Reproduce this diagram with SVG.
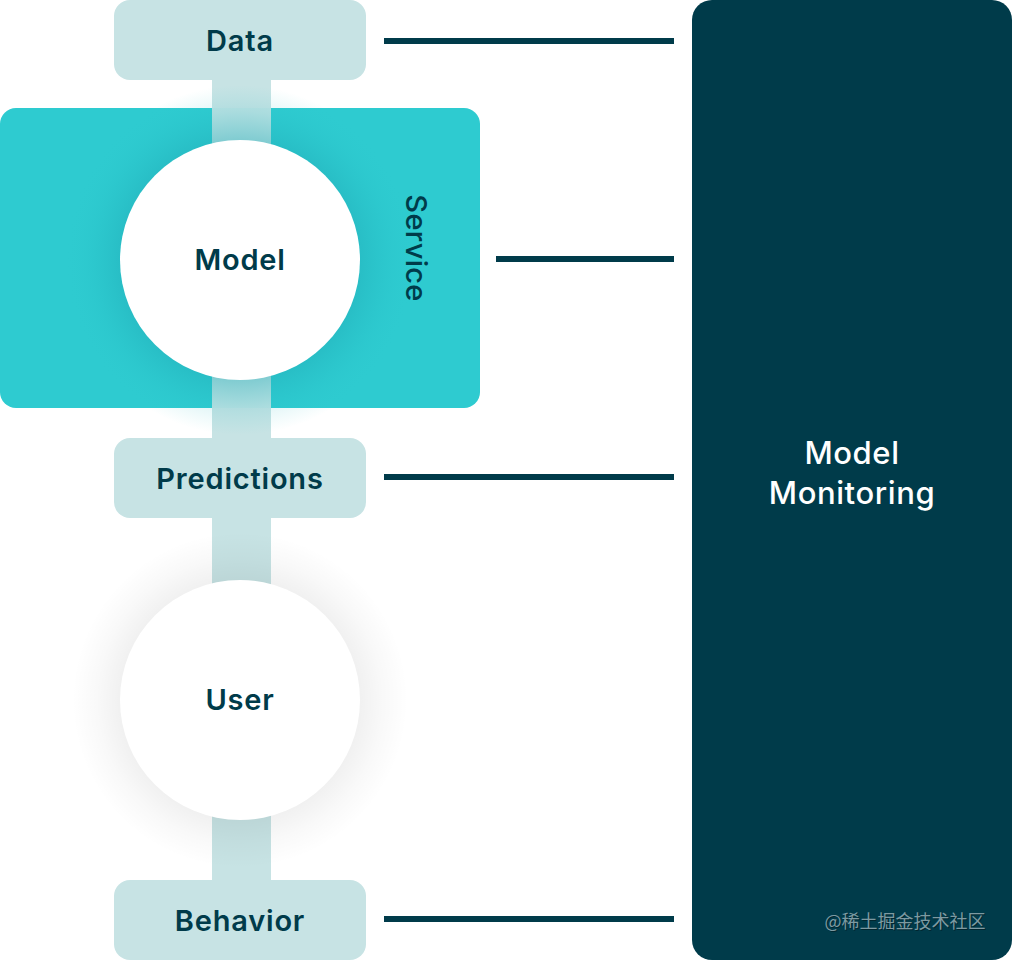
<svg xmlns="http://www.w3.org/2000/svg" width="1012" height="960" viewBox="0 0 1012 960">
<defs>
<style>
.pill{fill:#c7e3e4}
.bar{fill:#c7e3e4}
.lbl{font-family:Inter,Lato,"Noto Sans",sans-serif;font-weight:600;font-size:29px;letter-spacing:0.8px;fill:#003b4a;text-anchor:middle}
.conn{stroke:#003b4a;stroke-width:6;fill:none}
.wlbl{font-family:Inter,Lato,"Noto Sans",sans-serif;font-weight:500;font-size:31px;letter-spacing:0.6px;fill:#ffffff;text-anchor:middle}
</style>
<radialGradient id="tealShadow" cx="0.5" cy="0.5" r="0.5">
<stop offset="0.68" stop-color="#1fa9b5" stop-opacity="0.4"/>
<stop offset="0.85" stop-color="#22b5bf" stop-opacity="0.13"/>
<stop offset="1" stop-color="#2ecbd0" stop-opacity="0"/>
</radialGradient>
<radialGradient id="greyShadow" cx="0.5" cy="0.5" r="0.5">
<stop offset="0.7" stop-color="#000" stop-opacity="0.06"/>
<stop offset="0.85" stop-color="#000" stop-opacity="0.025"/>
<stop offset="1" stop-color="#000" stop-opacity="0"/>
</radialGradient>
</defs>
<rect width="1012" height="960" fill="#ffffff"/>
<g id="spine">
<rect class="bar" x="212" y="60" width="59" height="860"/>
</g>
<g id="service">
<rect x="0" y="108" width="480" height="300" rx="16" fill="#2ecbd0"/>
<rect x="212" y="108" width="59" height="300" fill="#c7e3e4" opacity="0.95"/>
<circle cx="240" cy="260" r="175" fill="url(#tealShadow)"/>
<text class="lbl" transform="translate(406,248) rotate(90)" style="font-weight:500;letter-spacing:0.3px">Service</text>
</g>
<g id="data">
<rect class="pill" x="114" y="0" width="252" height="80" rx="16"/>
<text class="lbl" x="240" y="51">Data</text>
</g>
<g id="model">
<circle cx="240" cy="260" r="120" fill="#ffffff"/>
<text class="lbl" x="240" y="270">Model</text>
</g>
<g id="predictions">
<rect class="pill" x="114" y="438" width="252" height="80" rx="16"/>
<text class="lbl" x="240" y="489">Predictions</text>
</g>
<g id="user">
<circle cx="240" cy="700" r="168" fill="url(#greyShadow)"/>
<circle cx="240" cy="700" r="120" fill="#ffffff"/>
<text class="lbl" x="240" y="710">User</text>
</g>
<g id="behavior">
<rect class="pill" x="114" y="880" width="252" height="80" rx="16"/>
<text class="lbl" x="240" y="931">Behavior</text>
</g>
<g id="monitoring">
<rect x="692" y="0" width="320" height="960" rx="20" fill="#003b4a"/>
<text class="wlbl" x="852" y="464">Model</text>
<text class="wlbl" x="852" y="504">Monitoring</text>
<text x="906" y="929" font-family="'Noto Sans CJK SC',sans-serif" font-size="18" fill="#000" opacity="0.35" text-anchor="middle">@稀土掘金技术社区</text>
<text x="905" y="928" font-family="'Noto Sans CJK SC',sans-serif" font-size="18" fill="#7d9aa2" text-anchor="middle">@稀土掘金技术社区</text>
</g>
<g id="connectors">
<line class="conn" x1="384" y1="41" x2="674" y2="41"/>
<line class="conn" x1="496" y1="259" x2="674" y2="259"/>
<line class="conn" x1="384" y1="477" x2="674" y2="477"/>
<line class="conn" x1="384" y1="919" x2="674" y2="919"/>
</g>
</svg>
